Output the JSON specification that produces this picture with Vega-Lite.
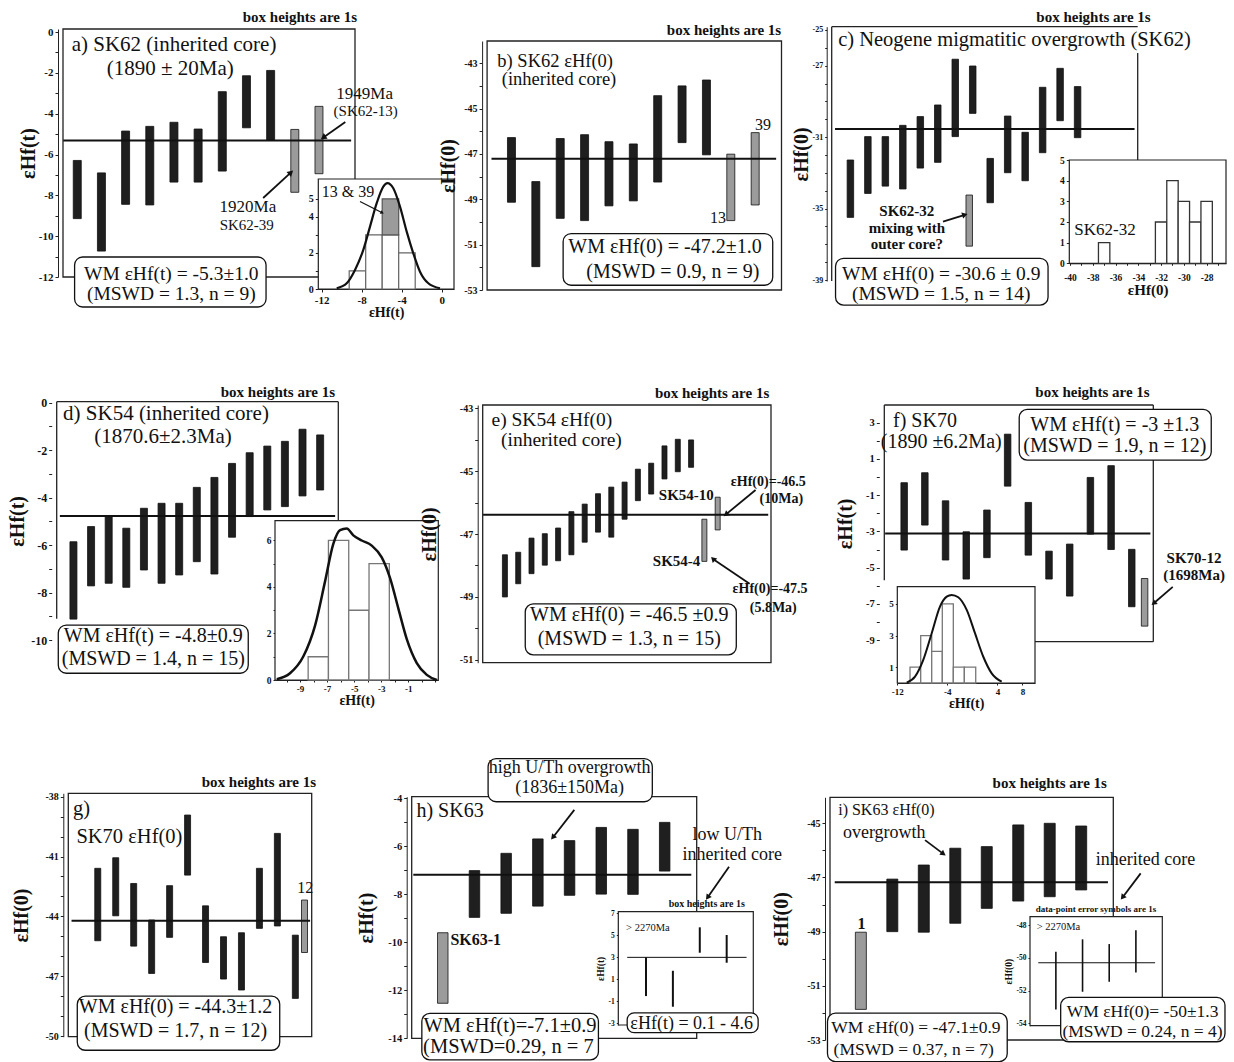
{
"$schema": "https://vega.github.io/schema/vega-lite/v6.json",
"width": 1234,
"height": 1062,
"autosize": "none",
"padding": 0,
"background": "white",
"config": {
  "view": {"stroke": null},
  "font": "Liberation Serif",
  "text": {"font": "Liberation Serif", "color": "#111"},
  "scale": {"zero": false},
  "axis": {"grid": false, "labelFont": "Liberation Serif", "labelFontWeight": "bold", "labelFontSize": 10, "labelColor": "#111", "titleFont": "Liberation Serif", "titleFontWeight": "bold", "titleFontSize": 20, "titleColor": "#111", "domainColor": "#222", "tickColor": "#222", "tickSize": 3, "labelPadding": 2, "labelOverlap": false, "labelFlush": false}
},
"resolve": {"scale": {"x": "independent", "y": "independent"}, "axis": {"x": "independent", "y": "independent"}},
"layer": [
{"data": {"values": [{}]}, "layer": [
  {"mark": {"type": "rect", "fillOpacity": 0, "stroke": "#222", "strokeWidth": 1.3},
   "encoding": {"x": {"datum": 0.41, "type": "quantitative", "scale": {"domain": [0.41, 12.49], "range": [58, 360], "nice": false, "zero": false}, "axis": null}, "x2": {"datum": 12.49},
     "y": {"datum": -12, "type": "quantitative", "scale": {"domain": [-12, 0.15], "range": [277, 29], "nice": false, "zero": false}}, "y2": {"datum": 0.15}}},
  {"data": {"values": [
    {"n": 1, "lo": -9.14, "hi": -6.29, "kind": "core"},
    {"n": 2, "lo": -10.73, "hi": -6.9, "kind": "core"},
    {"n": 3, "lo": -8.44, "hi": -4.85, "kind": "core"},
    {"n": 4, "lo": -8.47, "hi": -4.62, "kind": "core"},
    {"n": 5, "lo": -7.35, "hi": -4.42, "kind": "core"},
    {"n": 6, "lo": -7.35, "hi": -4.75, "kind": "core"},
    {"n": 7, "lo": -6.81, "hi": -2.92, "kind": "core"},
    {"n": 8, "lo": -4.69, "hi": -2.14, "kind": "core"},
    {"n": 9, "lo": -5.31, "hi": -1.88, "kind": "core"},
    {"n": 10, "lo": -7.85, "hi": -4.77, "kind": "excluded"},
    {"n": 11, "lo": -6.94, "hi": -3.64, "kind": "excluded"}]},
   "mark": {"type": "bar", "size": 8, "stroke": "#111", "strokeWidth": 0.8},
   "encoding": {"x": {"field": "n", "type": "quantitative", "axis": null}, "y": {"field": "lo", "type": "quantitative", "axis": {"orient": "left", "offset": -58, "values": [-12,-11,-10,-9,-8,-7,-6,-5,-4,-3,-2,-1,0], "labelExpr": "indexof([-12,-10,-8,-6,-4,-2,0], datum.value) >= 0 ? '' + datum.value : ''", "labelFontSize": 11, "title": "εHf(t)", "titlePadding": 0}}, "y2": {"field": "hi"}, "color": {"field": "kind", "type": "nominal", "scale": {"domain": ["core", "excluded"], "range": ["#1f1f1f", "#9b9b9b"]}, "legend": null}}},
  {"mark": {"type": "rule", "strokeWidth": 2, "color": "#111"}, "encoding": {"x": {"datum": 0.42, "type": "quantitative", "axis": null}, "x2": {"datum": 12.33}, "y": {"datum": -5.31, "type": "quantitative"}}},
  {"data": {"values": [{"x": 10.21, "y": 0.49, "label": "box heights are 1s"}]}, "mark": {"type": "text", "fontSize": 15, "align": "center", "baseline": "alphabetic", "fontWeight": "bold"}, "encoding": {"x": {"field": "x", "type": "quantitative", "axis": null}, "y": {"field": "y", "type": "quantitative"}, "text": {"field": "label"}}},
  {"data": {"values": [{"x": 0.77, "y": -0.93, "label": "a) SK62 (inherited core)"}]}, "mark": {"type": "text", "fontSize": 21, "align": "left", "baseline": "alphabetic"}, "encoding": {"x": {"field": "x", "type": "quantitative", "axis": null}, "y": {"field": "y", "type": "quantitative"}, "text": {"field": "label"}}},
  {"data": {"values": [{"x": 4.85, "y": -2.11, "label": "(1890 ± 20Ma)"}]}, "mark": {"type": "text", "fontSize": 21, "align": "center", "baseline": "alphabetic"}, "encoding": {"x": {"field": "x", "type": "quantitative", "axis": null}, "y": {"field": "y", "type": "quantitative"}, "text": {"field": "label"}}},
  {"data": {"values": [{"x": 12.89, "y": -3.3, "label": "1949Ma"}, {"x": 8.06, "y": -8.82, "label": "1920Ma"}]}, "mark": {"type": "text", "fontSize": 17, "align": "center", "baseline": "alphabetic"}, "encoding": {"x": {"field": "x", "type": "quantitative", "axis": null}, "y": {"field": "y", "type": "quantitative"}, "text": {"field": "label"}}},
  {"data": {"values": [{"x": 12.93, "y": -4.12, "label": "(SK62-13)"}, {"x": 8.01, "y": -9.68, "label": "SK62-39"}]}, "mark": {"type": "text", "fontSize": 15, "align": "center", "baseline": "alphabetic"}, "encoding": {"x": {"field": "x", "type": "quantitative", "axis": null}, "y": {"field": "y", "type": "quantitative"}, "text": {"field": "label"}}},
  {"data": {"values": [{"x": 12.09, "y": -4.41, "x2": 11.21, "y2": -5.14, "angle": 235.7}, {"x": 8.69, "y": -8.13, "x2": 9.81, "y2": -6.91, "angle": 48.2}]}, "layer": [
    {"mark": {"type": "rule", "strokeWidth": 1.8, "color": "#111"}, "encoding": {"x": {"field": "x", "type": "quantitative", "axis": null}, "y": {"field": "y", "type": "quantitative"}, "x2": {"field": "x2"}, "y2": {"field": "y2"}}},
    {"mark": {"type": "point", "shape": "triangle", "filled": true, "size": 45, "color": "#111", "opacity": 1}, "encoding": {"x": {"field": "x2", "type": "quantitative", "axis": null}, "y": {"field": "y2", "type": "quantitative"}, "angle": {"field": "angle", "type": "quantitative", "scale": null}}}]},
  {"data": {"values": [{"x": 0.89, "x2": 8.81, "y": -13.47, "y2": -11.02}]}, "mark": {"type": "rect", "fill": "white", "stroke": "#111", "strokeWidth": 1.3, "cornerRadius": 8}, "encoding": {"x": {"field": "x", "type": "quantitative", "axis": null}, "x2": {"field": "x2"}, "y": {"field": "y", "type": "quantitative"}, "y2": {"field": "y2"}}},
  {"data": {"values": [{"x": 4.89, "y": -12.15, "label": "WM εHf(t) = -5.3±1.0"}, {"x": 4.89, "y": -13.15, "label": "(MSWD = 1.3, n = 9)"}]}, "mark": {"type": "text", "fontSize": 19.5, "align": "center", "baseline": "alphabetic"}, "encoding": {"x": {"field": "x", "type": "quantitative", "axis": null}, "y": {"field": "y", "type": "quantitative"}, "text": {"field": "label"}}}
]},
{"data": {"values": [{}]}, "layer": [
  {"mark": {"type": "rect", "fill": "white", "stroke": "#222", "strokeWidth": 1.2},
   "encoding": {"x": {"datum": -12.34, "type": "quantitative", "scale": {"domain": [-12.34, 1.23], "range": [318.3, 454], "nice": false, "zero": false}}, "x2": {"datum": 1.23},
     "y": {"datum": 0, "type": "quantitative", "scale": {"domain": [0, 6.1], "range": [289, 179], "nice": false, "zero": false}}, "y2": {"datum": 6.1}}},
  {"data": {"values": [{"lo": -9.25, "hi": -7.6, "top": 1}, {"lo": -7.6, "hi": -5.95, "top": 3}, {"lo": -5.95, "hi": -4.3, "top": 3}, {"lo": -4.3, "hi": -2.65, "top": 2}]},
   "mark": {"type": "rect", "fill": "white", "stroke": "#666", "strokeWidth": 1.2},
   "encoding": {"x": {"field": "lo", "type": "quantitative", "axis": {"orient": "bottom", "offset": -773, "values": [-12, -8, -4, 0], "labelExpr": "'' + datum.value", "labelFontSize": 11, "title": "εHf(t)", "titleFontSize": 14, "titlePadding": 0}}, "x2": {"field": "hi"}, "y": {"field": "top", "type": "quantitative", "axis": {"orient": "left", "offset": -318.3, "values": [0, 1, 2, 3, 4, 5], "labelExpr": "indexof([0,2,4,5], datum.value) >= 0 ? '' + datum.value : ''", "labelFontSize": 10, "title": null}}, "y2": {"datum": 0}}},
  {"data": {"values": [{"lo": -5.95, "hi": -4.3, "top": 5, "base": 3}]},
   "mark": {"type": "rect", "fill": "#9b9b9b", "stroke": "#555", "strokeWidth": 1.2},
   "encoding": {"x": {"field": "lo", "type": "quantitative"}, "x2": {"field": "hi"}, "y": {"field": "top", "type": "quantitative"}, "y2": {"field": "base"}}},
  {"data": {"values": [{"x": -10.5, "y": 0.04}, {"x": -9.5, "y": 0.32}, {"x": -8.67, "y": 1.06}, {"x": -7.84, "y": 2.17}, {"x": -7.17, "y": 3.46}, {"x": -6.5, "y": 4.76}, {"x": -5.84, "y": 5.68}, {"x": -5.43, "y": 5.87}, {"x": -4.84, "y": 5.59}, {"x": -4.17, "y": 4.57}, {"x": -3.5, "y": 3.18}, {"x": -2.84, "y": 1.98}, {"x": -2.17, "y": 0.96}, {"x": -1.34, "y": 0.32}, {"x": -0.17, "y": 0.04}]},
   "mark": {"type": "line", "interpolate": "monotone", "strokeWidth": 2.2, "color": "#111"},
   "encoding": {"x": {"field": "x", "type": "quantitative"}, "y": {"field": "y", "type": "quantitative"}}},
  {"data": {"values": [{"x": -9.37, "y": 5.09, "label": "13 & 39"}]}, "mark": {"type": "text", "fontSize": 16, "align": "center", "baseline": "alphabetic"}, "encoding": {"x": {"field": "x", "type": "quantitative"}, "y": {"field": "y", "type": "quantitative"}, "text": {"field": "label"}}},
  {"data": {"values": [{"x": -8.17, "y": 4.85, "x2": -6.0, "y2": 4.24, "angle": 116.9}]}, "layer": [
    {"mark": {"type": "rule", "strokeWidth": 1.2, "color": "#111"}, "encoding": {"x": {"field": "x", "type": "quantitative"}, "y": {"field": "y", "type": "quantitative"}, "x2": {"field": "x2"}, "y2": {"field": "y2"}}},
    {"mark": {"type": "point", "shape": "triangle", "filled": true, "size": 16, "color": "#111", "opacity": 1}, "encoding": {"x": {"field": "x2", "type": "quantitative"}, "y": {"field": "y2", "type": "quantitative"}, "angle": {"field": "angle", "type": "quantitative", "scale": null}}}]}
]},
{"data": {"values": [{}]}, "layer": [
  {"mark": {"type": "rect", "fillOpacity": 0, "stroke": "#222", "strokeWidth": 1.3},
   "encoding": {"x": {"datum": 0, "type": "quantitative", "scale": {"domain": [0, 12.08], "range": [482.1, 786.5], "nice": false, "zero": false}, "axis": null}, "x2": {"datum": 12.08},
     "y": {"datum": -53, "type": "quantitative", "scale": {"domain": [-53, -42.02], "range": [290, 41], "nice": false, "zero": false}}, "y2": {"datum": -42.02}}},
  {"data": {"values": [
    {"n": 1, "lo": -49.13, "hi": -46.28, "kind": "core"},
    {"n": 2, "lo": -51.97, "hi": -48.22, "kind": "core"},
    {"n": 3, "lo": -49.84, "hi": -46.32, "kind": "core"},
    {"n": 4, "lo": -49.94, "hi": -46.15, "kind": "core"},
    {"n": 5, "lo": -49.29, "hi": -46.46, "kind": "core"},
    {"n": 6, "lo": -49.07, "hi": -46.56, "kind": "core"},
    {"n": 7, "lo": -48.24, "hi": -44.43, "kind": "core"},
    {"n": 8, "lo": -46.5, "hi": -44.0, "kind": "core"},
    {"n": 9, "lo": -47.04, "hi": -43.74, "kind": "core"},
    {"n": 10, "lo": -49.94, "hi": -47.01, "kind": "excluded"},
    {"n": 11, "lo": -49.25, "hi": -46.06, "kind": "excluded"}]},
   "mark": {"type": "bar", "size": 8, "stroke": "#111", "strokeWidth": 0.8},
   "encoding": {"x": {"field": "n", "type": "quantitative", "axis": null}, "y": {"field": "lo", "type": "quantitative", "axis": {"orient": "left", "offset": -482.1, "zindex": 1, "values": [-53,-52,-51,-50,-49,-48,-47,-46,-45,-44,-43], "labelExpr": "indexof([-53,-51,-49,-47,-45,-43], datum.value) >= 0 ? '' + datum.value : ''", "labelFontSize": 10, "title": "εHf(0)", "titlePadding": 5}}, "y2": {"field": "hi"}, "color": {"field": "kind", "type": "nominal", "legend": null}}},
  {"mark": {"type": "rule", "strokeWidth": 2, "color": "#111"}, "encoding": {"x": {"datum": 0.18, "type": "quantitative", "axis": null}, "x2": {"datum": 11.86}, "y": {"datum": -47.21, "type": "quantitative"}}},
  {"data": {"values": [{"x": 9.72, "y": -41.75, "label": "box heights are 1s"}]}, "mark": {"type": "text", "fontSize": 15, "align": "center", "baseline": "alphabetic", "fontWeight": "bold"}, "encoding": {"x": {"field": "x", "type": "quantitative", "axis": null}, "y": {"field": "y", "type": "quantitative"}, "text": {"field": "label"}}},
  {"data": {"values": [{"x": 0.42, "y": -43.15, "label": "b) SK62 εHf(0)"}, {"x": 0.6, "y": -43.96, "label": " (inherited core)"}]}, "mark": {"type": "text", "fontSize": 18.5, "align": "left", "baseline": "alphabetic"}, "encoding": {"x": {"field": "x", "type": "quantitative", "axis": null}, "y": {"field": "y", "type": "quantitative"}, "text": {"field": "label"}}},
  {"data": {"values": [{"x": 9.47, "y": -50.03, "label": "13"}, {"x": 11.32, "y": -45.95, "label": "39"}]}, "mark": {"type": "text", "fontSize": 16, "align": "center", "baseline": "alphabetic"}, "encoding": {"x": {"field": "x", "type": "quantitative", "axis": null}, "y": {"field": "y", "type": "quantitative"}, "text": {"field": "label"}}},
  {"data": {"values": [{"x": 3.12, "x2": 11.72, "y": -52.79, "y2": -50.51}]}, "mark": {"type": "rect", "fill": "white", "stroke": "#111", "strokeWidth": 1.3, "cornerRadius": 8}, "encoding": {"x": {"field": "x", "type": "quantitative", "axis": null}, "x2": {"field": "x2"}, "y": {"field": "y", "type": "quantitative"}, "y2": {"field": "y2"}}},
  {"data": {"values": [{"x": 7.3, "y": -51.38, "label": "WM εHf(0) = -47.2±1.0"}, {"x": 7.62, "y": -52.46, "label": "(MSWD = 0.9, n = 9)"}]}, "mark": {"type": "text", "fontSize": 20, "align": "center", "baseline": "alphabetic"}, "encoding": {"x": {"field": "x", "type": "quantitative", "axis": null}, "y": {"field": "y", "type": "quantitative"}, "text": {"field": "label"}}}
]},
{"data": {"values": [{}]}, "layer": [
  {"mark": {"type": "rule", "strokeWidth": 1.3, "color": "#222"},
   "encoding": {"x": {"datum": -0.07, "type": "quantitative", "scale": {"domain": [-0.07, 17.44], "range": [826.7, 1142.7], "nice": false, "zero": false}, "axis": null},
     "y": {"datum": -39.05, "type": "quantitative", "scale": {"domain": [-39.05, -24.82], "range": [281, 26.7], "nice": false, "zero": false}}, "y2": {"datum": -24.82}}},
  {"mark": {"type": "rule", "strokeWidth": 1.3, "color": "#222"}, "encoding": {"x": {"datum": -0.07, "type": "quantitative", "axis": null}, "x2": {"datum": 17.44}, "y": {"datum": -24.82, "type": "quantitative"}}},
  {"mark": {"type": "rule", "strokeWidth": 1.3, "color": "#222"}, "encoding": {"x": {"datum": 17.44, "type": "quantitative", "axis": null}, "y": {"datum": -32.28, "type": "quantitative"}, "y2": {"datum": -26.29}}},
  {"data": {"values": [
    {"n": 1, "lo": -35.49, "hi": -32.28, "kind": "core"},
    {"n": 2, "lo": -34.15, "hi": -30.97, "kind": "core"},
    {"n": 3, "lo": -33.74, "hi": -30.97, "kind": "core"},
    {"n": 4, "lo": -33.9, "hi": -30.34, "kind": "core"},
    {"n": 5, "lo": -32.73, "hi": -29.85, "kind": "core"},
    {"n": 6, "lo": -32.41, "hi": -29.2, "kind": "core"},
    {"n": 7, "lo": -30.97, "hi": -26.64, "kind": "core"},
    {"n": 8, "lo": -29.67, "hi": -27.02, "kind": "core"},
    {"n": 7.8, "lo": -37.1, "hi": -34.24, "kind": "excluded"},
    {"n": 9, "lo": -34.67, "hi": -32.19, "kind": "core"},
    {"n": 10, "lo": -32.99, "hi": -29.82, "kind": "core"},
    {"n": 11, "lo": -33.44, "hi": -30.73, "kind": "core"},
    {"n": 12, "lo": -31.87, "hi": -28.21, "kind": "core"},
    {"n": 13, "lo": -30.08, "hi": -27.15, "kind": "core"},
    {"n": 14, "lo": -31.03, "hi": -28.17, "kind": "core"}]},
   "mark": {"type": "bar", "size": 6.5, "stroke": "#111", "strokeWidth": 0.8},
   "encoding": {"x": {"field": "n", "type": "quantitative", "axis": null}, "y": {"field": "lo", "type": "quantitative", "axis": {"orient": "left", "offset": -826.7, "values": [-39,-38,-37,-36,-35,-34,-33,-32,-31,-30,-29,-28,-27,-26,-25], "labelExpr": "indexof([-39,-35,-31,-27,-25], datum.value) >= 0 ? '' + datum.value : ''", "labelFontSize": 8, "tickSize": 2, "title": "εHf(0)", "titlePadding": 1}}, "y2": {"field": "hi"}, "color": {"field": "kind", "type": "nominal", "legend": null}}},
  {"mark": {"type": "rule", "strokeWidth": 2, "color": "#111"}, "encoding": {"x": {"datum": 0.12, "type": "quantitative", "axis": null}, "x2": {"datum": 17.26}, "y": {"datum": -30.54, "type": "quantitative"}}},
  {"data": {"values": [{"x": 14.91, "y": -24.54, "label": "box heights are 1s"}]}, "mark": {"type": "text", "fontSize": 15, "align": "center", "baseline": "alphabetic", "fontWeight": "bold"}, "encoding": {"x": {"field": "x", "type": "quantitative", "axis": null}, "y": {"field": "y", "type": "quantitative"}, "text": {"field": "label"}}},
  {"data": {"values": [{"x": 0.3, "y": -25.9, "label": "c) Neogene migmatitic overgrowth (SK62)"}]}, "mark": {"type": "text", "fontSize": 20.5, "align": "left", "baseline": "alphabetic"}, "encoding": {"x": {"field": "x", "type": "quantitative", "axis": null}, "y": {"field": "y", "type": "quantitative"}, "text": {"field": "label"}}},
  {"data": {"values": [{"x": 4.23, "y": -35.41, "label": "SK62-32"}, {"x": 4.23, "y": -36.38, "label": "mixing with"}, {"x": 4.23, "y": -37.28, "label": "outer core?"}]}, "mark": {"type": "text", "fontSize": 15, "align": "center", "baseline": "alphabetic", "fontWeight": "bold"}, "encoding": {"x": {"field": "x", "type": "quantitative", "axis": null}, "y": {"field": "y", "type": "quantitative"}, "text": {"field": "label"}}},
  {"data": {"values": [{"x": 6.3, "y": -35.73, "x2": 7.5, "y2": -35.36, "angle": 72.8}]}, "layer": [
    {"mark": {"type": "rule", "strokeWidth": 1.8, "color": "#111"}, "encoding": {"x": {"field": "x", "type": "quantitative", "axis": null}, "y": {"field": "y", "type": "quantitative"}, "x2": {"field": "x2"}, "y2": {"field": "y2"}}},
    {"mark": {"type": "point", "shape": "triangle", "filled": true, "size": 40, "color": "#111", "opacity": 1}, "encoding": {"x": {"field": "x2", "type": "quantitative", "axis": null}, "y": {"field": "y2", "type": "quantitative"}, "angle": {"field": "angle", "type": "quantitative", "scale": null}}}]},
  {"data": {"values": [{"x": 0.15, "x2": 12.31, "y": -40.4, "y2": -37.78}]}, "mark": {"type": "rect", "fill": "white", "stroke": "#111", "strokeWidth": 1.3, "cornerRadius": 8}, "encoding": {"x": {"field": "x", "type": "quantitative", "axis": null}, "x2": {"field": "x2"}, "y": {"field": "y", "type": "quantitative"}, "y2": {"field": "y2"}}},
  {"data": {"values": [{"x": 6.2, "y": -38.98, "label": "WM εHf(0) = -30.6 ± 0.9"}, {"x": 6.2, "y": -40.12, "label": "(MSWD = 1.5, n = 14)"}]}, "mark": {"type": "text", "fontSize": 19.5, "align": "center", "baseline": "alphabetic"}, "encoding": {"x": {"field": "x", "type": "quantitative", "axis": null}, "y": {"field": "y", "type": "quantitative"}, "text": {"field": "label"}}}
]},
{"data": {"values": [{}]}, "layer": [
  {"mark": {"type": "rect", "fill": "white", "stroke": "#222", "strokeWidth": 1.2},
   "encoding": {"x": {"datum": -40.06, "type": "quantitative", "scale": {"domain": [-40.06, -26.3], "range": [1069.3, 1226], "nice": false, "zero": false}}, "x2": {"datum": -26.3},
     "y": {"datum": 0, "type": "quantitative", "scale": {"domain": [0, 5], "range": [263.3, 160], "nice": false, "zero": false}}, "y2": {"datum": 5}}},
  {"data": {"values": [{"lo": -37.5, "hi": -36.5, "top": 1}, {"lo": -32.5, "hi": -31.5, "top": 2}, {"lo": -31.5, "hi": -30.5, "top": 4}, {"lo": -30.5, "hi": -29.5, "top": 3}, {"lo": -29.5, "hi": -28.5, "top": 2}, {"lo": -28.5, "hi": -27.5, "top": 3}]},
   "mark": {"type": "rect", "fill": "white", "stroke": "#333", "strokeWidth": 1.3},
   "encoding": {"x": {"field": "lo", "type": "quantitative", "axis": {"orient": "bottom", "offset": -798.7, "values": [-40,-39,-38,-37,-36,-35,-34,-33,-32,-31,-30,-29,-28,-27], "labelExpr": "indexof([-40,-38,-36,-34,-32,-30,-28], datum.value) >= 0 ? '' + datum.value : ''", "labelFontSize": 9.5, "labelPadding": 7, "tickSize": 2, "title": "εHf(0)", "titleFontSize": 15, "titlePadding": 1}}, "x2": {"field": "hi"}, "y": {"field": "top", "type": "quantitative", "axis": {"orient": "left", "offset": -1069.3, "values": [0, 1, 2, 3, 4, 5], "labelExpr": "'' + datum.value", "labelFontSize": 9.5, "title": null}}, "y2": {"datum": 0}}},
  {"data": {"values": [{"x": -36.93, "y": 1.37, "label": "SK62-32"}]}, "mark": {"type": "text", "fontSize": 17, "align": "center", "baseline": "alphabetic"}, "encoding": {"x": {"field": "x", "type": "quantitative"}, "y": {"field": "y", "type": "quantitative"}, "text": {"field": "label"}}}
]},
{"data": {"values": [{}]}, "layer": [
  {"mark": {"type": "rule", "strokeWidth": 1.3, "color": "#222"},
   "encoding": {"x": {"datum": 0.05, "type": "quantitative", "scale": {"domain": [0.05, 16.03], "range": [51.7, 343.3], "nice": false, "zero": false}, "axis": null},
     "y": {"datum": -9.1, "type": "quantitative", "scale": {"domain": [-10, 0.04], "range": [640, 401.7], "nice": false, "zero": false}}, "y2": {"datum": 0.04}}},
  {"mark": {"type": "rule", "strokeWidth": 1.3, "color": "#222"}, "encoding": {"x": {"datum": 0.05, "type": "quantitative", "axis": null}, "x2": {"datum": 16.03}, "y": {"datum": 0.04, "type": "quantitative"}}},
  {"mark": {"type": "rule", "strokeWidth": 1.3, "color": "#222"}, "encoding": {"x": {"datum": 16.03, "type": "quantitative", "axis": null}, "y": {"datum": -8, "type": "quantitative"}, "y2": {"datum": 0.04}}},
  {"data": {"values": [
    {"n": 1, "lo": -9.12, "hi": -5.86, "kind": "core"},
    {"n": 2, "lo": -7.72, "hi": -5.22, "kind": "core"},
    {"n": 3, "lo": -7.61, "hi": -4.8, "kind": "core"},
    {"n": 4, "lo": -7.78, "hi": -5.29, "kind": "core"},
    {"n": 5, "lo": -7.05, "hi": -4.45, "kind": "core"},
    {"n": 6, "lo": -7.61, "hi": -4.24, "kind": "core"},
    {"n": 7, "lo": -7.26, "hi": -4.24, "kind": "core"},
    {"n": 8, "lo": -6.7, "hi": -3.57, "kind": "core"},
    {"n": 9, "lo": -7.22, "hi": -3.15, "kind": "core"},
    {"n": 10, "lo": -5.67, "hi": -2.56, "kind": "core"},
    {"n": 11, "lo": -4.8, "hi": -2.11, "kind": "core"},
    {"n": 12, "lo": -4.52, "hi": -1.83, "kind": "core"},
    {"n": 13, "lo": -4.38, "hi": -1.63, "kind": "core"},
    {"n": 14, "lo": -3.93, "hi": -1.12, "kind": "core"},
    {"n": 15, "lo": -3.68, "hi": -1.36, "kind": "core"}]},
   "mark": {"type": "bar", "size": 7, "stroke": "#111", "strokeWidth": 0.8},
   "encoding": {"x": {"field": "n", "type": "quantitative", "axis": null}, "y": {"field": "lo", "type": "quantitative", "axis": {"orient": "left", "offset": -51.7, "domain": false, "values": [-10,-9,-8,-7,-6,-5,-4,-3,-2,-1,0], "labelExpr": "indexof([-10,-8,-6,-4,-2,0], datum.value) >= 0 ? '' + datum.value : ''", "labelFontSize": 12, "title": "εHf(t)", "titlePadding": 3}}, "y2": {"field": "hi"}, "color": {"field": "kind", "type": "nominal", "legend": null}}},
  {"mark": {"type": "rule", "strokeWidth": 2, "color": "#111"}, "encoding": {"x": {"datum": 0.23, "type": "quantitative", "axis": null}, "x2": {"datum": 15.85}, "y": {"datum": -4.78, "type": "quantitative"}}},
  {"data": {"values": [{"x": 12.6, "y": 0.25, "label": "box heights are 1s"}]}, "mark": {"type": "text", "fontSize": 15, "align": "center", "baseline": "alphabetic", "fontWeight": "bold"}, "encoding": {"x": {"field": "x", "type": "quantitative", "axis": null}, "y": {"field": "y", "type": "quantitative"}, "text": {"field": "label"}}},
  {"data": {"values": [{"x": 0.41, "y": -0.73, "label": "d) SK54 (inherited core)"}]}, "mark": {"type": "text", "fontSize": 21, "align": "left", "baseline": "alphabetic"}, "encoding": {"x": {"field": "x", "type": "quantitative", "axis": null}, "y": {"field": "y", "type": "quantitative"}, "text": {"field": "label"}}},
  {"data": {"values": [{"x": 6.08, "y": -1.71, "label": "(1870.6±2.3Ma)"}]}, "mark": {"type": "text", "fontSize": 21, "align": "center", "baseline": "alphabetic"}, "encoding": {"x": {"field": "x", "type": "quantitative", "axis": null}, "y": {"field": "y", "type": "quantitative"}, "text": {"field": "label"}}},
  {"data": {"values": [{"x": 0.14, "x2": 10.92, "y": -11.4, "y2": -9.37}]}, "mark": {"type": "rect", "fill": "white", "stroke": "#111", "strokeWidth": 1.3, "cornerRadius": 8}, "encoding": {"x": {"field": "x", "type": "quantitative", "axis": null}, "x2": {"field": "x2"}, "y": {"field": "y", "type": "quantitative"}, "y2": {"field": "y2"}}},
  {"data": {"values": [{"x": 5.53, "y": -10.07, "label": "WM εHf(t) = -4.8±0.9"}, {"x": 5.53, "y": -11.07, "label": "(MSWD = 1.4, n = 15)"}]}, "mark": {"type": "text", "fontSize": 20, "align": "center", "baseline": "alphabetic"}, "encoding": {"x": {"field": "x", "type": "quantitative", "axis": null}, "y": {"field": "y", "type": "quantitative"}, "text": {"field": "label"}}}
]},
{"data": {"values": [{}]}, "layer": [
  {"mark": {"type": "rect", "fill": "white", "stroke": "#222", "strokeWidth": 1.2},
   "encoding": {"x": {"datum": -10.85, "type": "quantitative", "scale": {"domain": [-10.85, 1.22], "range": [275, 438.3], "nice": false, "zero": false}}, "x2": {"datum": 1.22},
     "y": {"datum": 0, "type": "quantitative", "scale": {"domain": [0, 6.85], "range": [680, 520.7], "nice": false, "zero": false}}, "y2": {"datum": 6.85}}},
  {"data": {"values": [{"lo": -8.4, "hi": -6.9, "top": 1}, {"lo": -6.9, "hi": -5.4, "top": 6}, {"lo": -5.4, "hi": -3.9, "top": 3}, {"lo": -3.9, "hi": -2.4, "top": 5}]},
   "mark": {"type": "rect", "fill": "white", "stroke": "#777", "strokeWidth": 1.3},
   "encoding": {"x": {"field": "lo", "type": "quantitative", "axis": {"orient": "bottom", "offset": -382, "values": [-10,-9,-8,-7,-6,-5,-4,-3,-2,-1,0,1], "labelExpr": "indexof([-9,-7,-5,-3,-1], datum.value) >= 0 ? '' + datum.value : ''", "labelFontSize": 9, "tickSize": 2, "title": "εHf(t)", "titleFontSize": 14, "titlePadding": 0}}, "x2": {"field": "hi"}, "y": {"field": "top", "type": "quantitative", "axis": {"orient": "left", "offset": -275, "values": [0, 1, 2, 3, 4, 5, 6], "labelExpr": "indexof([0,2,4,6], datum.value) >= 0 ? '' + datum.value : ''", "labelFontSize": 9.5, "tickSize": 2, "title": null}}, "y2": {"datum": 0}}},
  {"data": {"values": [{"x": -10.72, "y": 0.03}, {"x": -9.74, "y": 0.29}, {"x": -8.75, "y": 1.02}, {"x": -7.89, "y": 2.34}, {"x": -7.15, "y": 4.24}, {"x": -6.54, "y": 5.85}, {"x": -6.04, "y": 6.44}, {"x": -5.55, "y": 6.51}, {"x": -5.06, "y": 6.22}, {"x": -4.44, "y": 6.0}, {"x": -3.7, "y": 5.78}, {"x": -2.96, "y": 5.27}, {"x": -2.35, "y": 4.39}, {"x": -1.73, "y": 3.07}, {"x": -1.11, "y": 1.76}, {"x": -0.37, "y": 0.73}, {"x": 0.37, "y": 0.22}, {"x": 1.11, "y": 0.0}]},
   "mark": {"type": "line", "interpolate": "monotone", "strokeWidth": 2.5, "color": "#111"},
   "encoding": {"x": {"field": "x", "type": "quantitative"}, "y": {"field": "y", "type": "quantitative"}}}
]},
{"data": {"values": [{}]}, "layer": [
  {"mark": {"type": "rect", "fillOpacity": 0, "stroke": "#222", "strokeWidth": 1.3},
   "encoding": {"x": {"datum": -0.67, "type": "quantitative", "scale": {"domain": [-0.67, 21.01], "range": [477.7, 776], "nice": false, "zero": false}, "axis": null}, "x2": {"datum": 21.01},
     "y": {"datum": -51.09, "type": "quantitative", "scale": {"domain": [-51.09, -42.9], "range": [662.7, 405], "nice": false, "zero": false}}, "y2": {"datum": -42.9}}},
  {"data": {"values": [
    {"n": 1, "lo": -49.0, "hi": -47.66, "kind": "core"},
    {"n": 2, "lo": -48.58, "hi": -47.58, "kind": "core"},
    {"n": 3, "lo": -48.26, "hi": -47.13, "kind": "core"},
    {"n": 4, "lo": -47.99, "hi": -46.99, "kind": "core"},
    {"n": 5, "lo": -47.85, "hi": -46.81, "kind": "core"},
    {"n": 6, "lo": -47.66, "hi": -46.29, "kind": "core"},
    {"n": 7, "lo": -47.26, "hi": -46.05, "kind": "core"},
    {"n": 8, "lo": -46.94, "hi": -45.72, "kind": "core"},
    {"n": 9, "lo": -47.1, "hi": -45.51, "kind": "core"},
    {"n": 10, "lo": -46.53, "hi": -45.35, "kind": "core"},
    {"n": 11, "lo": -45.94, "hi": -44.94, "kind": "core"},
    {"n": 12, "lo": -45.73, "hi": -44.75, "kind": "core"},
    {"n": 13, "lo": -45.25, "hi": -44.2, "kind": "core"},
    {"n": 14, "lo": -45.02, "hi": -43.99, "kind": "core"},
    {"n": 15, "lo": -44.88, "hi": -44.01, "kind": "core"},
    {"n": 16, "lo": -47.87, "hi": -46.53, "kind": "excluded"},
    {"n": 17, "lo": -46.87, "hi": -45.83, "kind": "excluded"}]},
   "mark": {"type": "bar", "size": 5, "stroke": "#111", "strokeWidth": 0.8},
   "encoding": {"x": {"field": "n", "type": "quantitative", "axis": null}, "y": {"field": "lo", "type": "quantitative", "axis": {"orient": "left", "offset": -477.7, "zindex": 2, "values": [-51,-50,-49,-48,-47,-46,-45,-44,-43], "labelExpr": "indexof([-51,-49,-47,-45,-43], datum.value) >= 0 ? '' + datum.value : ''", "labelFontSize": 10, "title": "εHf(0)", "titlePadding": 20}}, "y2": {"field": "hi"}, "color": {"field": "kind", "type": "nominal", "legend": null}}},
  {"mark": {"type": "rule", "strokeWidth": 2, "color": "#111"}, "encoding": {"x": {"datum": -0.64, "type": "quantitative", "axis": null}, "x2": {"datum": 20.8}, "y": {"datum": -46.39, "type": "quantitative"}}},
  {"data": {"values": [{"x": 16.58, "y": -42.68, "label": "box heights are 1s"}]}, "mark": {"type": "text", "fontSize": 15, "align": "center", "baseline": "alphabetic", "fontWeight": "bold"}, "encoding": {"x": {"field": "x", "type": "quantitative", "axis": null}, "y": {"field": "y", "type": "quantitative"}, "text": {"field": "label"}}},
  {"data": {"values": [{"x": -0.01, "y": -43.56, "label": "e) SK54 εHf(0)"}, {"x": 0.71, "y": -44.2, "label": "(inherited core)"}]}, "mark": {"type": "text", "fontSize": 19.5, "align": "left", "baseline": "alphabetic"}, "encoding": {"x": {"field": "x", "type": "quantitative", "axis": null}, "y": {"field": "y", "type": "quantitative"}, "text": {"field": "label"}}},
  {"data": {"values": [{"x": 14.64, "y": -45.91, "label": "SK54-10"}, {"x": 13.91, "y": -48.03, "label": "SK54-4"}]}, "mark": {"type": "text", "fontSize": 15, "align": "center", "baseline": "alphabetic", "fontWeight": "bold"}, "encoding": {"x": {"field": "x", "type": "quantitative", "axis": null}, "y": {"field": "y", "type": "quantitative"}, "text": {"field": "label"}}},
  {"data": {"values": [{"x": 20.81, "y": -45.49, "label": "εHf(0)=-46.5"}, {"x": 21.79, "y": -46.0, "label": "(10Ma)"}, {"x": 20.94, "y": -48.88, "label": "εHf(0)=-47.5"}, {"x": 21.18, "y": -49.47, "label": "(5.8Ma)"}]}, "mark": {"type": "text", "fontSize": 14, "align": "center", "baseline": "alphabetic", "fontWeight": "bold"}, "encoding": {"x": {"field": "x", "type": "quantitative", "axis": null}, "y": {"field": "y", "type": "quantitative"}, "text": {"field": "label"}}},
  {"data": {"values": [{"x": 19.85, "y": -45.6, "x2": 17.67, "y2": -46.36, "angle": 231.3}, {"x": 19.4, "y": -48.58, "x2": 16.7, "y2": -47.81, "angle": 315.8}]}, "layer": [
    {"mark": {"type": "rule", "strokeWidth": 1.8, "color": "#111"}, "encoding": {"x": {"field": "x", "type": "quantitative", "axis": null}, "y": {"field": "y", "type": "quantitative"}, "x2": {"field": "x2"}, "y2": {"field": "y2"}}},
    {"mark": {"type": "point", "shape": "triangle", "filled": true, "size": 40, "color": "#111", "opacity": 1}, "encoding": {"x": {"field": "x2", "type": "quantitative", "axis": null}, "y": {"field": "y2", "type": "quantitative"}, "angle": {"field": "angle", "type": "quantitative", "scale": null}}}]},
  {"data": {"values": [{"x": 2.53, "x2": 18.4, "y": -50.84, "y2": -49.22}]}, "mark": {"type": "rect", "fill": "white", "stroke": "#111", "strokeWidth": 1.3, "cornerRadius": 8}, "encoding": {"x": {"field": "x", "type": "quantitative", "axis": null}, "x2": {"field": "x2"}, "y": {"field": "y", "type": "quantitative"}, "y2": {"field": "y2"}}},
  {"data": {"values": [{"x": 10.35, "y": -49.75, "label": "WM εHf(0) = -46.5 ±0.9"}, {"x": 10.35, "y": -50.52, "label": "(MSWD = 1.3, n = 15)"}]}, "mark": {"type": "text", "fontSize": 20, "align": "center", "baseline": "alphabetic"}, "encoding": {"x": {"field": "x", "type": "quantitative", "axis": null}, "y": {"field": "y", "type": "quantitative"}, "text": {"field": "label"}}}
]},
{"data": {"values": [{}]}, "layer": [
  {"mark": {"type": "rule", "strokeWidth": 1.3, "color": "#222"},
   "encoding": {"x": {"datum": 0.04, "type": "quantitative", "scale": {"domain": [0.04, 13.04], "range": [879.3, 1158.3], "nice": false, "zero": false}, "axis": null},
     "y": {"datum": -5.69, "type": "quantitative", "scale": {"domain": [-9.09, 3.98], "range": [641.7, 405], "nice": false, "zero": false}}, "y2": {"datum": 3.98}}},
  {"mark": {"type": "rule", "strokeWidth": 1.3, "color": "#222"}, "encoding": {"x": {"datum": 0.04, "type": "quantitative", "axis": null}, "x2": {"datum": 13.04}, "y": {"datum": 3.98, "type": "quantitative"}}},
  {"mark": {"type": "rule", "strokeWidth": 1.3, "color": "#222"}, "encoding": {"x": {"datum": 13.04, "type": "quantitative", "axis": null}, "y": {"datum": -9.09, "type": "quantitative"}, "y2": {"datum": 3.98}}},
  {"mark": {"type": "rule", "strokeWidth": 1.3, "color": "#222"}, "encoding": {"x": {"datum": 7.3, "type": "quantitative", "axis": null}, "x2": {"datum": 13.04}, "y": {"datum": -9.09, "type": "quantitative"}}},
  {"data": {"values": [
    {"n": 1, "lo": -4.03, "hi": -0.31, "kind": "core"},
    {"n": 2, "lo": -2.65, "hi": 0.24, "kind": "core"},
    {"n": 3, "lo": -4.58, "hi": -1.31, "kind": "core"},
    {"n": 4, "lo": -5.63, "hi": -3.02, "kind": "core"},
    {"n": 5, "lo": -4.45, "hi": -1.82, "kind": "core"},
    {"n": 6, "lo": -0.5, "hi": 2.37, "kind": "core"},
    {"n": 7, "lo": -4.31, "hi": -1.4, "kind": "core"},
    {"n": 8, "lo": -5.63, "hi": -4.09, "kind": "core"},
    {"n": 9, "lo": -6.57, "hi": -3.7, "kind": "core"},
    {"n": 10, "lo": -3.15, "hi": -0.02, "kind": "core"},
    {"n": 11, "lo": -4.0, "hi": 0.63, "kind": "core"},
    {"n": 12, "lo": -7.16, "hi": -3.99, "kind": "core"},
    {"n": 12.62, "lo": -8.23, "hi": -5.6, "kind": "excluded"}]},
   "mark": {"type": "bar", "size": 6.5, "stroke": "#111", "strokeWidth": 0.8},
   "encoding": {"x": {"field": "n", "type": "quantitative", "axis": null}, "y": {"field": "lo", "type": "quantitative", "axis": {"orient": "left", "offset": -879.3, "domain": false, "values": [-9,-8,-7,-6,-5,-4,-3,-2,-1,0,1,2,3], "labelExpr": "indexof([-9,-7,-5,-3,-1,1,3], datum.value) >= 0 ? '' + datum.value : ''", "labelFontSize": 10.5, "title": "εHf(t)", "titlePadding": 10}}, "y2": {"field": "hi"}, "color": {"field": "kind", "type": "nominal", "legend": null}}},
  {"mark": {"type": "rule", "strokeWidth": 2, "color": "#111"}, "encoding": {"x": {"datum": 0.08, "type": "quantitative", "axis": null}, "x2": {"datum": 12.9}, "y": {"datum": -3.11, "type": "quantitative"}}},
  {"data": {"values": [{"x": 10.1, "y": 4.4, "label": "box heights are 1s"}]}, "mark": {"type": "text", "fontSize": 15, "align": "center", "baseline": "alphabetic", "fontWeight": "bold"}, "encoding": {"x": {"field": "x", "type": "quantitative", "axis": null}, "y": {"field": "y", "type": "quantitative"}, "text": {"field": "label"}}},
  {"data": {"values": [{"x": 0.46, "y": 2.78, "label": "f) SK70"}]}, "mark": {"type": "text", "fontSize": 20, "align": "left", "baseline": "alphabetic"}, "encoding": {"x": {"field": "x", "type": "quantitative", "axis": null}, "y": {"field": "y", "type": "quantitative"}, "text": {"field": "label"}}},
  {"data": {"values": [{"x": 2.79, "y": 1.59, "label": "(1890 ±6.2Ma)"}]}, "mark": {"type": "text", "fontSize": 20, "align": "center", "baseline": "alphabetic"}, "encoding": {"x": {"field": "x", "type": "quantitative", "axis": null}, "y": {"field": "y", "type": "quantitative"}, "text": {"field": "label"}}},
  {"data": {"values": [{"x": 15.01, "y": -4.76, "label": "SK70-12"}, {"x": 15.01, "y": -5.69, "label": "(1698Ma)"}]}, "mark": {"type": "text", "fontSize": 15, "align": "center", "baseline": "alphabetic", "fontWeight": "bold"}, "encoding": {"x": {"field": "x", "type": "quantitative", "axis": null}, "y": {"field": "y", "type": "quantitative"}, "text": {"field": "label"}}},
  {"data": {"values": [{"x": 13.98, "y": -6.06, "x2": 13.09, "y2": -6.94, "angle": 229.9}]}, "layer": [
    {"mark": {"type": "rule", "strokeWidth": 1.8, "color": "#111"}, "encoding": {"x": {"field": "x", "type": "quantitative", "axis": null}, "y": {"field": "y", "type": "quantitative"}, "x2": {"field": "x2"}, "y2": {"field": "y2"}}},
    {"mark": {"type": "point", "shape": "triangle", "filled": true, "size": 40, "color": "#111", "opacity": 1}, "encoding": {"x": {"field": "x2", "type": "quantitative", "axis": null}, "y": {"field": "y2", "type": "quantitative"}, "angle": {"field": "angle", "type": "quantitative", "scale": null}}}]},
  {"data": {"values": [{"x": 6.56, "x2": 15.84, "y": 0.94, "y2": 3.74}]}, "mark": {"type": "rect", "fill": "white", "stroke": "#111", "strokeWidth": 1.3, "cornerRadius": 8}, "encoding": {"x": {"field": "x", "type": "quantitative", "axis": null}, "x2": {"field": "x2"}, "y": {"field": "y", "type": "quantitative"}, "y2": {"field": "y2"}}},
  {"data": {"values": [{"x": 11.18, "y": 2.56, "label": "WM εHf(t) = -3 ±1.3"}, {"x": 11.18, "y": 1.4, "label": "(MSWD = 1.9, n = 12)"}]}, "mark": {"type": "text", "fontSize": 20, "align": "center", "baseline": "alphabetic"}, "encoding": {"x": {"field": "x", "type": "quantitative", "axis": null}, "y": {"field": "y", "type": "quantitative"}, "text": {"field": "label"}}}
]},
{"data": {"values": [{}]}, "layer": [
  {"mark": {"type": "rect", "fill": "white", "stroke": "#222", "strokeWidth": 1.2},
   "encoding": {"x": {"datum": -12, "type": "quantitative", "scale": {"domain": [-12, 10], "range": [897.3, 1035], "nice": false, "zero": false}}, "x2": {"datum": 10},
     "y": {"datum": 0, "type": "quantitative", "scale": {"domain": [0, 6.09], "range": [683, 586.7], "nice": false, "zero": false}}, "y2": {"datum": 6.09}}},
  {"data": {"values": [{"lo": -9.97, "hi": -8.26, "top": 1}, {"lo": -8.26, "hi": -6.5, "top": 3}, {"lo": -6.5, "hi": -4.81, "top": 2}, {"lo": -4.81, "hi": -3.05, "top": 5}, {"lo": -3.05, "hi": -1.29, "top": 1}, {"lo": -1.29, "hi": 0.53, "top": 1}]},
   "mark": {"type": "rect", "fill": "white", "stroke": "#777", "strokeWidth": 1.3},
   "encoding": {"x": {"field": "lo", "type": "quantitative", "axis": {"orient": "bottom", "offset": -379, "values": [-12, -4, 4, 8], "labelExpr": "'' + datum.value", "labelFontSize": 9, "tickSize": 2, "title": "εHf(t)", "titleFontSize": 14, "titlePadding": 0}}, "x2": {"field": "hi"}, "y": {"field": "top", "type": "quantitative", "axis": {"orient": "left", "offset": -897.3, "values": [1, 3, 5], "labelExpr": "'' + datum.value", "labelFontSize": 9, "tickSize": 2, "title": null}}, "y2": {"datum": 0}}},
  {"data": {"values": [{"x": -10.5, "y": 0.02}, {"x": -9.17, "y": 0.4}, {"x": -7.85, "y": 1.46}, {"x": -6.5, "y": 3.15}, {"x": -5.18, "y": 4.83}, {"x": -4.11, "y": 5.46}, {"x": -3.31, "y": 5.57}, {"x": -2.26, "y": 5.42}, {"x": -0.91, "y": 4.62}, {"x": 0.41, "y": 3.15}, {"x": 1.74, "y": 1.66}, {"x": 3.08, "y": 0.61}, {"x": 4.68, "y": 0.08}]},
   "mark": {"type": "line", "interpolate": "monotone", "strokeWidth": 2, "color": "#111"},
   "encoding": {"x": {"field": "x", "type": "quantitative"}, "y": {"field": "y", "type": "quantitative"}}}
]},
{"data": {"values": [{}]}, "layer": [
  {"mark": {"type": "rect", "fillOpacity": 0, "stroke": "#222", "strokeWidth": 1.3},
   "encoding": {"x": {"datum": -0.64, "type": "quantitative", "scale": {"domain": [-0.64, 12.91], "range": [63.3, 316.7], "nice": false, "zero": false}, "axis": null}, "x2": {"datum": 12.91},
     "y": {"datum": -50.03, "type": "quantitative", "scale": {"domain": [-50.03, -37.83], "range": [1036.7, 793.3], "nice": false, "zero": false}}, "y2": {"datum": -37.83}}},
  {"data": {"values": [
    {"n": 1, "lo": -45.22, "hi": -41.59, "kind": "core"},
    {"n": 2, "lo": -43.97, "hi": -41.06, "kind": "core"},
    {"n": 3, "lo": -45.49, "hi": -42.35, "kind": "core"},
    {"n": 4, "lo": -46.86, "hi": -44.18, "kind": "core"},
    {"n": 5, "lo": -45.05, "hi": -42.46, "kind": "core"},
    {"n": 6, "lo": -41.93, "hi": -38.92, "kind": "core"},
    {"n": 7, "lo": -46.31, "hi": -43.47, "kind": "core"},
    {"n": 8, "lo": -47.14, "hi": -45.02, "kind": "core"},
    {"n": 9, "lo": -47.69, "hi": -44.82, "kind": "core"},
    {"n": 10, "lo": -44.6, "hi": -41.59, "kind": "core"},
    {"n": 11, "lo": -44.48, "hi": -39.84, "kind": "core"},
    {"n": 12, "lo": -48.11, "hi": -44.94, "kind": "core"},
    {"n": 12.51, "lo": -45.81, "hi": -43.18, "kind": "excluded"}]},
   "mark": {"type": "bar", "size": 6, "stroke": "#111", "strokeWidth": 0.8},
   "encoding": {"x": {"field": "n", "type": "quantitative", "axis": null}, "y": {"field": "lo", "type": "quantitative", "axis": {"orient": "left", "offset": -63.3, "values": [-50,-49,-48,-47,-46,-45,-44,-43,-42,-41,-40,-39,-38], "labelExpr": "indexof([-50,-47,-44,-41,-38], datum.value) >= 0 ? '' + datum.value : ''", "labelFontSize": 10, "title": "εHf(0)", "titlePadding": 13}}, "y2": {"field": "hi"}, "color": {"field": "kind", "type": "nominal", "legend": null}}},
  {"mark": {"type": "rule", "strokeWidth": 2, "color": "#111"}, "encoding": {"x": {"datum": -0.46, "type": "quantitative", "axis": null}, "x2": {"datum": 12.82}, "y": {"datum": -44.22, "type": "quantitative"}}},
  {"data": {"values": [{"x": 9.97, "y": -37.5, "label": "box heights are 1s"}]}, "mark": {"type": "text", "fontSize": 15, "align": "center", "baseline": "alphabetic", "fontWeight": "bold"}, "encoding": {"x": {"field": "x", "type": "quantitative", "axis": null}, "y": {"field": "y", "type": "quantitative"}, "text": {"field": "label"}}},
  {"data": {"values": [{"x": -0.38, "y": -38.92, "label": "g)"}, {"x": -0.19, "y": -40.34, "label": "SK70 εHf(0)"}]}, "mark": {"type": "text", "fontSize": 20.5, "align": "left", "baseline": "alphabetic"}, "encoding": {"x": {"field": "x", "type": "quantitative", "axis": null}, "y": {"field": "y", "type": "quantitative"}, "text": {"field": "label"}}},
  {"data": {"values": [{"x": 12.55, "y": -42.84, "label": "12"}]}, "mark": {"type": "text", "fontSize": 16, "align": "center", "baseline": "alphabetic"}, "encoding": {"x": {"field": "x", "type": "quantitative", "axis": null}, "y": {"field": "y", "type": "quantitative"}, "text": {"field": "label"}}},
  {"data": {"values": [{"x": -0.14, "x2": 11.13, "y": -50.71, "y2": -48.0}]}, "mark": {"type": "rect", "fill": "white", "stroke": "#111", "strokeWidth": 1.3, "cornerRadius": 8}, "encoding": {"x": {"field": "x", "type": "quantitative", "axis": null}, "x2": {"field": "x2"}, "y": {"field": "y", "type": "quantitative"}, "y2": {"field": "y2"}}},
  {"data": {"values": [{"x": 5.33, "y": -48.86, "label": "WM εHf(0) = -44.3±1.2"}, {"x": 5.33, "y": -50.06, "label": "(MSWD = 1.7, n = 12)"}]}, "mark": {"type": "text", "fontSize": 20, "align": "center", "baseline": "alphabetic"}, "encoding": {"x": {"field": "x", "type": "quantitative", "axis": null}, "y": {"field": "y", "type": "quantitative"}, "text": {"field": "label"}}}
]},
{"data": {"values": [{}]}, "layer": [
  {"mark": {"type": "rect", "fillOpacity": 0, "stroke": "#222", "strokeWidth": 1.3},
   "encoding": {"x": {"datum": -0.98, "type": "quantitative", "scale": {"domain": [-0.98, 8.01], "range": [406.7, 701.7], "nice": false, "zero": false}, "axis": null}, "x2": {"datum": 8.01},
     "y": {"datum": -14, "type": "quantitative", "scale": {"domain": [-14, -3.93], "range": [1038.3, 796.7], "nice": false, "zero": false}}, "y2": {"datum": -3.93}}},
  {"data": {"values": [
    {"n": 0, "lo": -12.54, "hi": -9.6, "kind": "excluded"},
    {"n": 1, "lo": -8.96, "hi": -7.01, "kind": "core"},
    {"n": 2, "lo": -8.79, "hi": -6.29, "kind": "core"},
    {"n": 3, "lo": -8.49, "hi": -5.69, "kind": "core"},
    {"n": 4, "lo": -8.04, "hi": -5.76, "kind": "core"},
    {"n": 5, "lo": -7.99, "hi": -5.21, "kind": "core"},
    {"n": 6, "lo": -8.0, "hi": -5.29, "kind": "core"},
    {"n": 7, "lo": -7.03, "hi": -5.0, "kind": "core"}]},
   "mark": {"type": "bar", "size": 10.5, "stroke": "#111", "strokeWidth": 0.8},
   "encoding": {"x": {"field": "n", "type": "quantitative", "axis": null}, "y": {"field": "lo", "type": "quantitative", "axis": {"orient": "left", "offset": -406.7, "values": [-14,-13,-12,-11,-10,-9,-8,-7,-6,-5,-4], "labelExpr": "indexof([-14,-12,-10,-8,-6,-4], datum.value) >= 0 ? '' + datum.value : ''", "labelFontSize": 10.5, "title": "εHf(t)", "titlePadding": 11}}, "y2": {"field": "hi"}, "color": {"field": "kind", "type": "nominal", "legend": null}}},
  {"mark": {"type": "rule", "strokeWidth": 2, "color": "#111"}, "encoding": {"x": {"datum": -0.93, "type": "quantitative", "axis": null}, "x2": {"datum": 7.84}, "y": {"datum": -7.18, "type": "quantitative"}}},
  {"data": {"values": [{"x": -0.83, "y": -4.79, "label": "h) SK63"}]}, "mark": {"type": "text", "fontSize": 20, "align": "left", "baseline": "alphabetic"}, "encoding": {"x": {"field": "x", "type": "quantitative", "axis": null}, "y": {"field": "y", "type": "quantitative"}, "text": {"field": "label"}}},
  {"data": {"values": [{"x": 1.43, "x2": 6.61, "y": -4.14, "y2": -2.34}, {"x": -0.66, "x2": 4.91, "y": -14.9, "y2": -12.96}]}, "mark": {"type": "rect", "fill": "white", "stroke": "#111", "strokeWidth": 1.3, "cornerRadius": 8}, "encoding": {"x": {"field": "x", "type": "quantitative", "axis": null}, "x2": {"field": "x2"}, "y": {"field": "y", "type": "quantitative"}, "y2": {"field": "y2"}}},
  {"data": {"values": [{"x": 4.0, "y": -2.96, "label": "high U/Th overgrowth"}, {"x": 4.0, "y": -3.79, "label": "(1836±150Ma)"}, {"x": 8.97, "y": -5.74, "label": "low U/Th"}, {"x": 9.13, "y": -6.57, "label": "inherited core"}]}, "mark": {"type": "text", "fontSize": 18, "align": "center", "baseline": "alphabetic"}, "encoding": {"x": {"field": "x", "type": "quantitative", "axis": null}, "y": {"field": "y", "type": "quantitative"}, "text": {"field": "label"}}},
  {"data": {"values": [{"x": 0.24, "y": -10.11, "label": "SK63-1"}]}, "mark": {"type": "text", "fontSize": 16, "align": "left", "baseline": "alphabetic", "fontWeight": "bold"}, "encoding": {"x": {"field": "x", "type": "quantitative", "axis": null}, "y": {"field": "y", "type": "quantitative"}, "text": {"field": "label"}}},
  {"data": {"values": [{"x": 4.15, "y": -4.48, "x2": 3.49, "y2": -5.6, "angle": 219.1}, {"x": 9.03, "y": -6.85, "x2": 8.37, "y2": -8.1, "angle": 215.9}]}, "layer": [
    {"mark": {"type": "rule", "strokeWidth": 1.8, "color": "#111"}, "encoding": {"x": {"field": "x", "type": "quantitative", "axis": null}, "y": {"field": "y", "type": "quantitative"}, "x2": {"field": "x2"}, "y2": {"field": "y2"}}},
    {"mark": {"type": "point", "shape": "triangle", "filled": true, "size": 40, "color": "#111", "opacity": 1}, "encoding": {"x": {"field": "x2", "type": "quantitative", "axis": null}, "y": {"field": "y2", "type": "quantitative"}, "angle": {"field": "angle", "type": "quantitative", "scale": null}}}]},
  {"data": {"values": [{"x": 2.12, "y": -13.72, "label": "WM εHf(t)=-7.1±0.9"}, {"x": 2.07, "y": -14.63, "label": "(MSWD=0.29, n = 7"}]}, "mark": {"type": "text", "fontSize": 20.5, "align": "center", "baseline": "alphabetic"}, "encoding": {"x": {"field": "x", "type": "quantitative", "axis": null}, "y": {"field": "y", "type": "quantitative"}, "text": {"field": "label"}}}
]},
{"data": {"values": [{}]}, "layer": [
  {"mark": {"type": "rect", "fill": "white", "stroke": "#222", "strokeWidth": 1.2},
   "encoding": {"x": {"datum": -0.03, "type": "quantitative", "scale": {"domain": [-0.03, 4.99], "range": [618.3, 753.3], "nice": false, "zero": false}, "axis": null}, "x2": {"datum": 4.99},
     "y": {"datum": -3.15, "type": "quantitative", "scale": {"domain": [-3.15, 7.15], "range": [1025, 911.7], "nice": false, "zero": false}}, "y2": {"datum": 7.15}}},
  {"data": {"values": [{"n": 1, "lo": -0.52, "hi": 3.0}, {"n": 2, "lo": -1.49, "hi": 1.78}, {"n": 3, "lo": 3.42, "hi": 5.73}, {"n": 4, "lo": 2.51, "hi": 5.03}]},
   "mark": {"type": "rule", "strokeWidth": 2, "color": "#111"},
   "encoding": {"x": {"field": "n", "type": "quantitative", "axis": null}, "y": {"field": "lo", "type": "quantitative", "axis": {"orient": "left", "offset": -618.3, "values": [7, 5, 3, 1, -1, -3], "labelExpr": "'' + datum.value", "labelFontSize": 7.5, "tickSize": 2, "title": "εHf(t)", "titleFontSize": 9.5, "titlePadding": 3}}, "y2": {"field": "hi"}}},
  {"mark": {"type": "rule", "strokeWidth": 1, "color": "#111"}, "encoding": {"x": {"datum": 0.3, "type": "quantitative", "axis": null}, "x2": {"datum": 4.74}, "y": {"datum": 3.0, "type": "quantitative"}}},
  {"data": {"values": [{"x": 3.26, "y": 7.55, "label": "box heights are 1s"}]}, "mark": {"type": "text", "fontSize": 10, "align": "center", "baseline": "alphabetic", "fontWeight": "bold"}, "encoding": {"x": {"field": "x", "type": "quantitative", "axis": null}, "y": {"field": "y", "type": "quantitative"}, "text": {"field": "label"}}},
  {"data": {"values": [{"x": 0.26, "y": 5.42, "label": "> 2270Ma"}]}, "mark": {"type": "text", "fontSize": 10.5, "align": "left", "baseline": "alphabetic"}, "encoding": {"x": {"field": "x", "type": "quantitative", "axis": null}, "y": {"field": "y", "type": "quantitative"}, "text": {"field": "label"}}},
  {"data": {"values": [{"x": 0.3, "x2": 5.17, "y": -3.85, "y2": -2.04}]}, "mark": {"type": "rect", "fill": "white", "stroke": "#111", "strokeWidth": 1.3, "cornerRadius": 7}, "encoding": {"x": {"field": "x", "type": "quantitative", "axis": null}, "x2": {"field": "x2"}, "y": {"field": "y", "type": "quantitative"}, "y2": {"field": "y2"}}},
  {"data": {"values": [{"x": 2.7, "y": -3.55, "label": "εHf(t) = 0.1 - 4.6"}]}, "mark": {"type": "text", "fontSize": 18, "align": "center", "baseline": "alphabetic"}, "encoding": {"x": {"field": "x", "type": "quantitative", "axis": null}, "y": {"field": "y", "type": "quantitative"}, "text": {"field": "label"}}}
]},
{"data": {"values": [{}]}, "layer": [
  {"mark": {"type": "rect", "fillOpacity": 0, "stroke": "#222", "strokeWidth": 1.3},
   "encoding": {"x": {"datum": -0.98, "type": "quantitative", "scale": {"domain": [-0.98, 8.02], "range": [825, 1118.3], "nice": false, "zero": false}, "axis": null}, "x2": {"datum": 8.02},
     "y": {"datum": -53, "type": "quantitative", "scale": {"domain": [-53, -44.04], "range": [1040, 797.3], "nice": false, "zero": false}}, "y2": {"datum": -44.04}}},
  {"data": {"values": [
    {"n": 0, "lo": -51.87, "hi": -49.02, "kind": "excluded"},
    {"n": 1, "lo": -49.0, "hi": -47.06, "kind": "core"},
    {"n": 2, "lo": -49.02, "hi": -46.54, "kind": "core"},
    {"n": 3, "lo": -48.69, "hi": -45.92, "kind": "core"},
    {"n": 4, "lo": -48.14, "hi": -45.86, "kind": "core"},
    {"n": 5, "lo": -47.87, "hi": -45.06, "kind": "core"},
    {"n": 6, "lo": -47.71, "hi": -45.0, "kind": "core"},
    {"n": 7, "lo": -47.46, "hi": -45.1, "kind": "core"}]},
   "mark": {"type": "bar", "size": 11, "stroke": "#111", "strokeWidth": 0.8},
   "encoding": {"x": {"field": "n", "type": "quantitative", "axis": null}, "y": {"field": "lo", "type": "quantitative", "axis": {"orient": "left", "offset": -825, "values": [-53,-52,-51,-50,-49,-48,-47,-46,-45], "labelExpr": "indexof([-53,-51,-49,-47,-45], datum.value) >= 0 ? '' + datum.value : ''", "labelFontSize": 10, "title": "εHf(0)", "titlePadding": 15}}, "y2": {"field": "hi"}, "color": {"field": "kind", "type": "nominal", "legend": null}}},
  {"mark": {"type": "rule", "strokeWidth": 2, "color": "#111"}, "encoding": {"x": {"datum": -0.83, "type": "quantitative", "axis": null}, "x2": {"datum": 7.85}, "y": {"datum": -47.18, "type": "quantitative"}}},
  {"data": {"values": [{"x": 6.0, "y": -43.71, "label": "box heights are 1s"}]}, "mark": {"type": "text", "fontSize": 15, "align": "center", "baseline": "alphabetic", "fontWeight": "bold"}, "encoding": {"x": {"field": "x", "type": "quantitative", "axis": null}, "y": {"field": "y", "type": "quantitative"}, "text": {"field": "label"}}},
  {"data": {"values": [{"x": -0.72, "y": -44.69, "label": "i) SK63 εHf(0)"}]}, "mark": {"type": "text", "fontSize": 16, "align": "left", "baseline": "alphabetic"}, "encoding": {"x": {"field": "x", "type": "quantitative", "axis": null}, "y": {"field": "y", "type": "quantitative"}, "text": {"field": "label"}}},
  {"data": {"values": [{"x": -0.57, "y": -45.55, "label": "overgrowth"}]}, "mark": {"type": "text", "fontSize": 18, "align": "left", "baseline": "alphabetic"}, "encoding": {"x": {"field": "x", "type": "quantitative", "axis": null}, "y": {"field": "y", "type": "quantitative"}, "text": {"field": "label"}}},
  {"data": {"values": [{"x": 9.04, "y": -46.54, "label": "inherited core"}]}, "mark": {"type": "text", "fontSize": 18, "align": "center", "baseline": "alphabetic"}, "encoding": {"x": {"field": "x", "type": "quantitative", "axis": null}, "y": {"field": "y", "type": "quantitative"}, "text": {"field": "label"}}},
  {"data": {"values": [{"x": 0.02, "y": -48.91, "label": "1"}]}, "mark": {"type": "text", "fontSize": 16, "align": "center", "baseline": "alphabetic", "fontWeight": "bold"}, "encoding": {"x": {"field": "x", "type": "quantitative", "axis": null}, "y": {"field": "y", "type": "quantitative"}, "text": {"field": "label"}}},
  {"data": {"values": [{"x": 2.04, "y": -45.62, "x2": 2.6, "y2": -46.11, "angle": 125.9}, {"x": 8.89, "y": -46.85, "x2": 8.33, "y2": -47.71, "angle": 218.2}]}, "layer": [
    {"mark": {"type": "rule", "strokeWidth": 1.8, "color": "#111"}, "encoding": {"x": {"field": "x", "type": "quantitative", "axis": null}, "y": {"field": "y", "type": "quantitative"}, "x2": {"field": "x2"}, "y2": {"field": "y2"}}},
    {"mark": {"type": "point", "shape": "triangle", "filled": true, "size": 40, "color": "#111", "opacity": 1}, "encoding": {"x": {"field": "x2", "type": "quantitative", "axis": null}, "y": {"field": "y2", "type": "quantitative"}, "angle": {"field": "angle", "type": "quantitative", "scale": null}}}]},
  {"data": {"values": [{"x": -1.06, "x2": 4.65, "y": -53.8, "y2": -52.01}]}, "mark": {"type": "rect", "fill": "white", "stroke": "#111", "strokeWidth": 1.3, "cornerRadius": 8}, "encoding": {"x": {"field": "x", "type": "quantitative", "axis": null}, "x2": {"field": "x2"}, "y": {"field": "y", "type": "quantitative"}, "y2": {"field": "y2"}}},
  {"data": {"values": [{"x": 1.75, "y": -52.75, "label": "WM εHf(0) = -47.1±0.9"}, {"x": 1.68, "y": -53.55, "label": "(MSWD = 0.37, n = 7)"}]}, "mark": {"type": "text", "fontSize": 17.5, "align": "center", "baseline": "alphabetic"}, "encoding": {"x": {"field": "x", "type": "quantitative", "axis": null}, "y": {"field": "y", "type": "quantitative"}, "text": {"field": "label"}}}
]},
{"data": {"values": [{}]}, "layer": [
  {"mark": {"type": "rect", "fill": "white", "stroke": "#222", "strokeWidth": 1.2},
   "encoding": {"x": {"datum": 0.03, "type": "quantitative", "scale": {"domain": [0.03, 4.99], "range": [1030, 1162.3], "nice": false, "zero": false}, "axis": null}, "x2": {"datum": 4.99},
     "y": {"datum": -54.14, "type": "quantitative", "scale": {"domain": [-54.14, -47.49], "range": [1025.7, 916.7], "nice": false, "zero": false}}, "y2": {"datum": -47.49}}},
  {"data": {"values": [{"n": 1, "lo": -53.15, "hi": -49.63}, {"n": 2, "lo": -52.07, "hi": -48.87}, {"n": 3, "lo": -51.46, "hi": -49.16}, {"n": 4, "lo": -50.89, "hi": -48.31}]},
   "mark": {"type": "rule", "strokeWidth": 1.6, "color": "#111"},
   "encoding": {"x": {"field": "n", "type": "quantitative", "axis": null}, "y": {"field": "lo", "type": "quantitative", "axis": {"orient": "left", "offset": -1030, "values": [-48, -50, -52, -54], "labelExpr": "'' + datum.value", "labelFontSize": 7.5, "tickSize": 2, "title": "εHf(0)", "titleFontSize": 9.5, "titlePadding": 3}}, "y2": {"field": "hi"}}},
  {"mark": {"type": "rule", "strokeWidth": 1, "color": "#111"}, "encoding": {"x": {"datum": 0.34, "type": "quantitative", "axis": null}, "x2": {"datum": 4.72}, "y": {"datum": -50.3, "type": "quantitative"}}},
  {"data": {"values": [{"x": 2.5, "y": -47.19, "label": "data-point error symbols are 1s"}]}, "mark": {"type": "text", "fontSize": 9, "align": "center", "baseline": "alphabetic", "fontWeight": "bold"}, "encoding": {"x": {"field": "x", "type": "quantitative", "axis": null}, "y": {"field": "y", "type": "quantitative"}, "text": {"field": "label"}}},
  {"data": {"values": [{"x": 0.28, "y": -48.3, "label": "> 2270Ma"}]}, "mark": {"type": "text", "fontSize": 10.5, "align": "left", "baseline": "alphabetic"}, "encoding": {"x": {"field": "x", "type": "quantitative", "axis": null}, "y": {"field": "y", "type": "quantitative"}, "text": {"field": "label"}}},
  {"data": {"values": [{"x": 1.18, "x2": 7.34, "y": -55.12, "y2": -52.41}]}, "mark": {"type": "rect", "fill": "white", "stroke": "#111", "strokeWidth": 1.3, "cornerRadius": 8}, "encoding": {"x": {"field": "x", "type": "quantitative", "axis": null}, "x2": {"field": "x2"}, "y": {"field": "y", "type": "quantitative"}, "y2": {"field": "y2"}}},
  {"data": {"values": [{"x": 4.25, "y": -53.59, "label": "WM εHf(0)= -50±1.3"}, {"x": 4.25, "y": -54.82, "label": "(MSWD = 0.24, n = 4)"}]}, "mark": {"type": "text", "fontSize": 17.5, "align": "center", "baseline": "alphabetic"}, "encoding": {"x": {"field": "x", "type": "quantitative", "axis": null}, "y": {"field": "y", "type": "quantitative"}, "text": {"field": "label"}}}
]}
]
}
